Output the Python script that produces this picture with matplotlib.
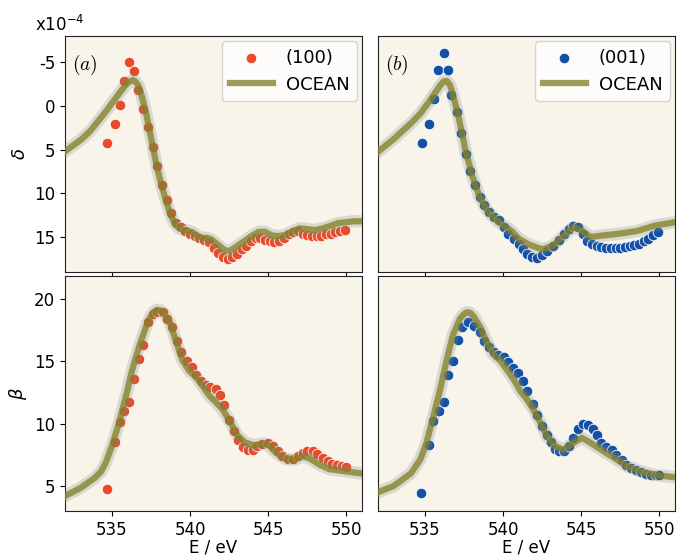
# -*- coding: utf-8 -*-
#%% import modules
import matplotlib.pyplot as plt
import numpy as np

plt.rcParams['axes.unicode_minus'] = False

#%% measured data, (100) orientation  (values in units of 1e-4)
e_delta_100 = [534.7, 535.2, 535.5, 535.8, 536.1, 536.4, 536.7, 537.0, 537.3, 537.6,
               537.9, 538.2, 538.5, 538.8, 539.1, 539.4, 539.7, 540.0, 540.3, 540.6,
               540.9, 541.2, 541.5, 541.8, 542.1, 542.4, 542.7, 543.0, 543.3, 543.6,
               543.9, 544.2, 544.5, 544.8, 545.1, 545.4, 545.7, 546.0, 546.3, 546.6,
               546.9, 547.2, 547.5, 547.8, 548.1, 548.4, 548.7, 549.0, 549.3, 549.6, 549.9]
delta_100 = [4.2, 2.1, -0.1, -2.8, -5.0, -4.0, -1.8, 0.4, 2.4, 4.7,
             6.9, 9.1, 10.8, 12.3, 13.4, 13.9, 14.3, 14.7, 14.9, 15.1,
             15.3, 15.6, 16.2, 16.8, 17.3, 17.5, 17.3, 16.9, 16.4, 16.0,
             15.5, 15.1, 15.1, 15.3, 15.5, 15.6, 15.4, 15.1, 14.7, 14.4,
             14.3, 14.6, 14.8, 14.9, 14.9, 14.85, 14.7, 14.6, 14.4, 14.3, 14.2]

e_beta_100 = [534.7, 535.2, 535.5, 535.8, 536.1, 536.4, 536.75, 537.0, 537.3, 537.6,
              537.9, 538.25, 538.55, 538.85, 539.15, 539.45, 539.8, 540.1, 540.4, 540.7,
              541.05, 541.3, 541.65, 541.9, 542.2, 542.5, 542.8, 543.05, 543.4, 543.7,
              544.0, 544.3, 544.6, 545.0, 545.3, 545.6, 545.9, 546.25, 546.6, 546.9,
              547.2, 547.5, 547.85, 548.15, 548.5, 548.8, 549.1, 549.4, 549.7, 550.0]
beta_100 = [4.8, 8.5, 10.1, 11.0, 11.7, 13.6, 15.2, 16.3, 18.1, 18.8,
            18.9, 18.9, 18.4, 17.7, 16.6, 15.7, 15.0, 14.5, 13.9, 13.4,
            13.05, 12.95, 12.8, 12.25, 11.45, 10.3, 9.4, 8.65, 8.1, 7.9,
            7.9, 8.2, 8.4, 8.45, 8.2, 7.8, 7.4, 7.2, 7.15, 7.4,
            7.65, 7.8, 7.8, 7.6, 7.25, 7.0, 6.8, 6.65, 6.6, 6.55]

#%% measured data, (001) orientation
e_delta_001 = [534.8, 535.25, 535.6, 535.85, 536.2, 536.45, 536.7, 537.05, 537.3, 537.65,
               537.9, 538.2, 538.5, 538.8, 539.1, 539.45, 539.75, 540.05, 540.35, 540.7,
               541.0, 541.3, 541.55, 541.85, 542.15, 542.5, 542.8, 543.2, 543.6, 543.9,
               544.2, 544.5, 544.8, 545.1, 545.4, 545.7, 546.0, 546.3, 546.6, 546.9,
               547.2, 547.5, 547.8, 548.1, 548.4, 548.7, 549.0, 549.3, 549.6, 549.9]
delta_001 = [4.3, 2.1, -0.8, -4.1, -6.0, -4.1, -1.2, 0.65, 3.1, 5.5,
             7.4, 9.1, 10.4, 11.3, 12.1, 12.7, 13.1, 13.8, 14.6, 15.2,
             15.8, 16.4, 16.9, 17.3, 17.4, 17.1, 16.6, 16.0, 15.3, 14.6,
             14.1, 13.7, 13.9, 14.6, 15.4, 15.8, 16.0, 16.1, 16.2, 16.2,
             16.2, 16.2, 16.1, 16.0, 15.9, 15.8, 15.5, 15.2, 14.8, 14.4]

e_beta_001 = [534.75, 535.25, 535.55, 535.9, 536.25, 536.5, 536.8, 537.1, 537.4, 537.75,
              538.15, 538.5, 538.8, 539.1, 539.4, 539.7, 540.05, 540.35, 540.65, 540.95,
              541.25, 541.55, 541.9, 542.15, 542.5, 542.8, 543.05, 543.35, 543.6, 543.9,
              544.2, 544.5, 544.8, 545.1, 545.45, 545.75, 546.0, 546.3, 546.6, 546.95,
              547.25, 547.6, 547.9, 548.2, 548.5, 548.85, 549.15, 549.45, 549.8, 550.0]
beta_001 = [4.45, 8.3, 10.2, 11.0, 11.7, 13.85, 15.0, 16.7, 17.7, 18.1,
            17.8, 17.3, 16.6, 16.1, 15.7, 15.45, 15.35, 14.9, 14.45, 14.05,
            13.4, 12.6, 11.6, 10.7, 9.8, 9.1, 8.5, 8.0, 7.8, 7.8,
            8.2, 8.85, 9.6, 10.0, 9.9, 9.6, 9.05, 8.45, 8.1, 7.9,
            7.5, 7.05, 6.7, 6.45, 6.25, 6.1, 6.0, 5.9, 5.85, 5.85]

#%% OCEAN calculations
e_oc_delta_100 = [532.0, 533.0, 533.6, 534.0, 534.5, 535.0, 535.5, 535.8, 536.0, 536.2,
                  536.35, 536.5, 536.7, 536.9, 537.2, 537.5, 537.8, 538.1, 538.4, 538.7,
                  539.0, 539.3, 539.6, 539.9, 540.2, 540.5, 540.8, 541.1, 541.4, 541.8,
                  542.2, 542.5, 542.8, 543.2, 543.6, 544.0, 544.4, 544.8, 545.2, 545.6,
                  546.0, 546.5, 547.0, 547.5, 548.0, 548.5, 549.0, 549.5, 550.0, 550.5, 551.0]
oc_delta_100 = [5.2, 3.9, 2.9, 2.0, 0.9, -0.3, -1.5, -2.2, -2.6, -2.85,
                -2.95, -2.8, -2.3, -1.2, 0.9, 3.6, 6.3, 8.6, 10.5, 12.2,
                13.4, 14.0, 14.2, 14.3, 14.5, 14.9, 15.1, 15.1, 15.3, 15.9,
                16.5, 16.6, 16.3, 15.8, 15.3, 14.8, 14.4, 14.4, 14.8, 14.9,
                14.8, 14.4, 14.0, 14.1, 14.2, 14.0, 13.7, 13.4, 13.3, 13.2, 13.2]

e_oc_beta_100 = [532.0, 533.0, 533.9, 534.3, 534.6, 535.0, 535.45, 535.9, 536.3, 536.75,
                 537.2, 537.45, 537.7, 537.9, 538.1, 538.35, 538.7, 539.1, 539.5, 539.95,
                 540.4, 540.8, 541.25, 541.7, 542.1, 542.6, 543.0, 543.5, 544.05, 544.7,
                 545.1, 545.5, 546.15, 546.7, 547.2, 547.65, 548.3, 548.9, 549.8, 551.0]
oc_beta_100 = [4.2, 4.85, 5.65, 6.15, 6.85, 8.2, 10.05, 12.2, 14.3, 16.2,
               17.8, 18.5, 18.95, 19.1, 19.05, 18.8, 18.1, 16.6, 15.1, 14.2,
               13.7, 13.0, 12.2, 11.65, 11.1, 10.05, 9.1, 8.5, 8.25, 8.4,
               8.2, 7.65, 7.15, 7.1, 7.4, 7.2, 6.7, 6.35, 6.2, 6.0]

e_oc_delta_001 = [532.0, 533.0, 534.1, 534.7, 535.2, 535.7, 536.0, 536.2, 536.4, 536.6,
                  536.8, 537.2, 537.6, 538.05, 538.5, 539.0, 539.7, 540.3, 540.6, 541.0,
                  541.6, 542.0, 542.5, 543.2, 543.9, 544.5, 545.0, 545.6, 546.5, 547.5,
                  548.6, 549.7, 551.0]
oc_delta_001 = [5.25, 3.8, 2.0, 0.9, -0.3, -1.6, -2.4, -2.8, -2.85, -2.4,
                -1.3, 1.6, 5.1, 8.1, 10.4, 12.0, 13.3, 14.0, 14.4, 15.2,
                15.8, 16.1, 16.4, 16.0, 14.8, 13.9, 14.2, 15.0, 14.8, 14.6,
                14.3, 13.7, 13.3]

e_oc_beta_001 = [532.0, 533.0, 534.1, 534.7, 535.1, 535.55, 535.97, 536.4, 536.8, 537.25,
                 537.5, 537.7, 537.9, 538.1, 538.55, 538.98, 539.4, 539.85, 540.25, 540.7,
                 541.1, 541.55, 541.95, 542.4, 542.8, 543.35, 543.85, 544.5, 545.05, 545.6,
                 546.1, 546.6, 547.3, 547.9, 548.75, 549.6, 551.0]
oc_beta_001 = [4.5, 5.0, 6.0, 7.1, 8.45, 10.6, 12.7, 15.1, 17.1, 18.4,
               18.75, 18.9, 18.85, 18.6, 17.7, 16.5, 15.5, 15.0, 14.3, 13.5,
               12.6, 11.9, 11.1, 10.05, 9.0, 8.2, 7.9, 8.45, 8.85, 8.45,
               8.05, 7.65, 7.1, 6.6, 6.2, 5.9, 5.7]

#%% styles
bg = '#f8f4ea'
red = '#ec4a26'
blue = '#1450a6'
olive = '#85812a'
halo = '#7c9086'


def draw_panel(ax, ex, yx, eo, yo, color, label):
    ax.set_facecolor(bg)
    ax.scatter(ex, yx, s=58, color=color, edgecolors='white', linewidths=0.6,
               label=label, zorder=2)
    ax.plot(eo, yo, color=halo, lw=9, alpha=0.25, solid_joinstyle='round', zorder=3)
    ax.plot(eo, yo, color=olive, lw=4.5, alpha=0.78, solid_joinstyle='round',
            label='OCEAN', zorder=4)
    ax.set_xlim(532, 551)
    ax.set_xticks([535, 540, 545, 550])
    ax.tick_params(labelsize=12, length=3.5, width=0.8)
    for s in ax.spines.values():
        s.set_color('#222222')


#%% figure
fig = plt.figure(figsize=(6.78, 5.56), dpi=100)
ax1 = fig.add_axes([0.0959, 0.5108, 0.438, 0.4245])
ax2 = fig.add_axes([0.5575, 0.5108, 0.438, 0.4245])
ax3 = fig.add_axes([0.0959, 0.0809, 0.438, 0.4227])
ax4 = fig.add_axes([0.5575, 0.0809, 0.438, 0.4227])

draw_panel(ax1, e_delta_100, delta_100, e_oc_delta_100, oc_delta_100, red, '(100)')
draw_panel(ax2, e_delta_001, delta_001, e_oc_delta_001, oc_delta_001, blue, '(001)')
draw_panel(ax3, e_beta_100, beta_100, e_oc_beta_100, oc_beta_100, red, None)
draw_panel(ax4, e_beta_001, beta_001, e_oc_beta_001, oc_beta_001, blue, None)

for ax in (ax1, ax2):
    ax.set_ylim(19, -8)
    ax.set_yticks([-5, 0, 5, 10, 15])
    ax.tick_params(labelbottom=False)
    ax.legend(loc='upper right', fontsize=13, scatterpoints=1, handlelength=2.4,
              handletextpad=0.7, borderaxespad=0.3)
for ax in (ax3, ax4):
    ax.set_ylim(3, 21.8)
    ax.set_yticks([5, 10, 15, 20])
    ax.set_xlabel('E / eV', fontsize=12, labelpad=0)
for ax in (ax2, ax4):
    ax.tick_params(labelleft=False, left=False)

ax1.set_ylabel(r'$\delta$', fontsize=13)
ax3.set_ylabel(r'$\beta$', fontsize=13)
ax1.text(0.025, 0.93, r'$(a)$', transform=ax1.transAxes, fontsize=14,
         math_fontfamily='cm', va='top')
ax2.text(0.025, 0.93, r'$(b)$', transform=ax2.transAxes, fontsize=14,
         math_fontfamily='cm', va='top')
fig.text(0.052, 0.945, r'x10$^{-4}$', fontsize=12)

fig.savefig('out.png', dpi=100, facecolor='white')
